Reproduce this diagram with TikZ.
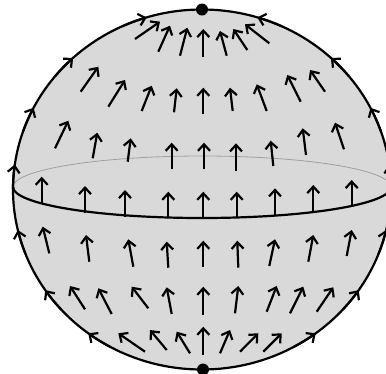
\documentclass[tikz,border=0pt]{standalone}
\usepackage{tikz}
\usetikzlibrary{arrows.meta,calc}
\usepackage{xcolor}
\definecolor{spheregray}{HTML}{D9D9D9}

\begin{document}
\begin{tikzpicture}[
    x=1pt, y=-1pt,
    flowvec/.style={draw=black, line width=2.2pt, -{Straight Barb[length=6.5pt,width=12pt,line width=2.2pt]}},
    rimline/.style={draw=black, line width=2.2pt},
    backequator/.style={draw=gray!75, line width=0.8pt},
    polenode/.style={circle, fill=black, inner sep=0pt, minimum size=12pt}
]
    \useasboundingbox (0,0) rectangle (386,373);

    % Sfera e centro
    \coordinate (ctr) at (202,189.5);
    \fill[spheregray] (ctr) ellipse [x radius=189, y radius=180];

    % Equatore: parte posteriore sottile, parte anteriore piena
    \draw[backequator] (391,187) arc[start angle=0, end angle=-180, x radius=189, y radius=31];
    \draw[rimline] (391,187) arc[start angle=0, end angle=180, x radius=189, y radius=31];

    % Contorno
    \draw[rimline] (ctr) ellipse [x radius=189, y radius=180];

    % Flusso lungo il contorno (lato sinistro e destro)
    \foreach \te in {-107,-133,-153,-172,-193,-214,-233} {
        \pgfmathsetmacro\ts{\te-8}
        \draw[flowvec] ($(ctr)+(\ts:189 and 180)$) arc[start angle=\ts, end angle=\te, x radius=189, y radius=180];
    }
    \foreach \te in {-73,-47,-27,-8,13,34,53} {
        \pgfmathsetmacro\ts{\te+8}
        \draw[flowvec] ($(ctr)+(\ts:189 and 180)$) arc[start angle=\ts, end angle=\te, x radius=189, y radius=180];
    }

    % Campo vettoriale, riga per riga (coda / punta)
    \foreach \xa/\ya/\xb/\yb in {
        135/39/160/21.7, 158.3/51.7/170/25.7, 180/55.7/187.3/27.7, 203.3/56.7/203.3/29,
        226.7/55.7/220/31, 247.3/50/233.3/29, 269.3/43.3/245/24.3,
        80.7/91.7/98.3/66.7, 108.3/106.7/125/80, 141.7/111/151.7/85.7, 174/112.3/176.7/88.3,
        203.3/114.3/203.3/87.7, 232.7/111/230/87.7, 266.7/111/256.7/84.3, 300.7/101.7/287.3/75,
        325/91.7/310/70,
        55/148.3/68.3/120.7, 92.7/158.3/97.3/132.7, 127.7/161.7/130.7/138.3, 171.7/169.3/171.7/142.7,
        204/169.3/204/142.7, 236/170.7/236/143.3, 273.3/166/270.7/140.7, 306/155/302.7/128.3,
        344/149.3/335/122.7,
        41.7/203.3/41.7/176.7, 85/212.7/85/186, 125/216.7/125/190, 168.3/218.3/168.3/191.7,
        203.3/218.3/203.3/191.7, 236.7/218.3/236.7/191.7, 275/215/275/188.3, 313.3/211.7/313.3/185,
        351.7/206.7/351.7/180,
        49.3/253.3/42.7/226.7, 89.3/261.7/86/235, 133.3/266.7/128.3/239.3, 168.3/267.7/166.7/241.7,
        203.3/266.7/203.3/240.7, 238.3/267.7/237.3/240.7, 269.3/266/275/239.3, 308.3/261.7/313.3/235,
        346.7/256/351.7/230,
        85/309.3/70/286, 111.7/314/98.3/288.3, 148.3/308.3/131.7/286.7, 171.7/314/166.7/287.3,
        203.3/315/203.3/286.7, 235/313.3/238.3/286, 266.7/311.7/276.7/286, 290/313.3/303.3/286.7,
        316.7/311.7/333.3/287.3,
        145/351.7/118.3/333.3, 166.7/350/150/330, 190/353.3/176.7/331.7, 203.3/355/203.3/326.7,
        220/353.3/230/330, 240/351.7/258.3/333.3, 263.3/351.7/281.7/333.3}
        \draw[flowvec] (\xa,\ya) -- (\xb,\yb);

    % Poli
    \node[polenode] (np) at (202,9.5) {};
    \node[polenode] (sp) at (203,369.5) {};
\end{tikzpicture}
\end{document}
